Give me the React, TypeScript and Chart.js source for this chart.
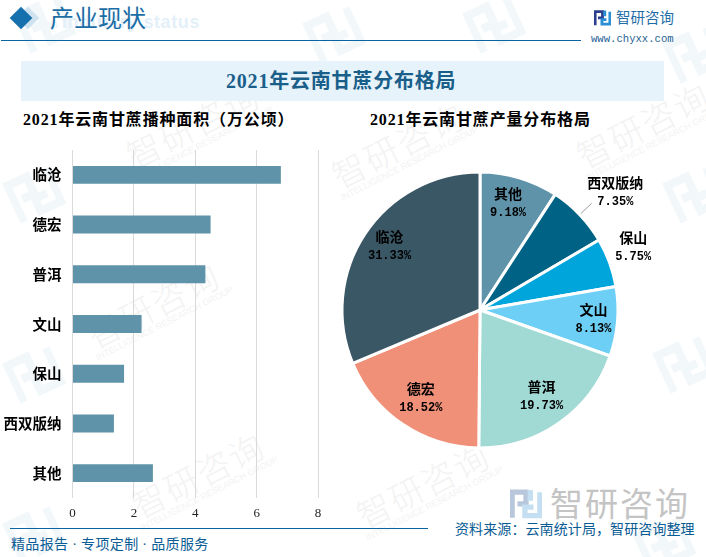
import React, { useEffect, useRef } from "react";
import { Chart, registerables } from "chart.js";

Chart.register(...registerables);

const barCategories = ["临沧", "德宏", "普洱", "文山", "保山", "西双版纳", "其他"];
const barValues = [6.79, 4.5, 4.33, 2.25, 1.68, 1.35, 2.62];
const pieCategories = ["其他", "西双版纳", "保山", "文山", "普洱", "德宏", "临沧"];
const pieValues = [9.18, 7.35, 5.75, 8.13, 19.73, 18.52, 31.33];
const pieColors = ["#5f93a9", "#006285", "#00a5dc", "#6dcff6", "#a1d9d5", "#f09078", "#3a5766"];
const xTicks = [0, 2, 4, 6, 8];

const SERIF = '"Liberation Serif", "Noto Sans CJK SC", serif';
const labelFont = '"Noto Sans CJK SC", sans-serif';

// Label placement relative to each slice: radius factor and angular nudge in degrees.
const labelRadius = [0.8, 1.3, 1.2, 0.825, 0.77, 0.77, 0.8];
const labelNudge = [-1.8, 2.7, -2.2, 0, -0.4, 0, 1.4];

const pieLabels = {
  id: "pieLabels",
  afterDatasetsDraw(chart: any) {
    const { ctx } = chart;
    const arcs = chart.getDatasetMeta(0).data;
    ctx.save();
    ctx.textAlign = "center";
    ctx.textBaseline = "middle";
    ctx.fillStyle = "#000";
    arcs.forEach((arc: any, i: number) => {
      const mid = (arc.startAngle + arc.endAngle) / 2 + (labelNudge[i] * Math.PI) / 180;
      const r = arc.outerRadius * labelRadius[i];
      const x = arc.x + Math.cos(mid) * r;
      const y = arc.y + Math.sin(mid) * r;
      ctx.font = `bold 14px ${labelFont}`;
      ctx.fillText(pieCategories[i], x, y - 9.5);
      ctx.font = 'bold 12px "Liberation Mono", monospace';
      ctx.fillText(`${pieValues[i].toFixed(2)}%`, x, y + 9.5);
    });
    const a = arcs[1];
    const ang = (a.startAngle + a.endAngle) / 2;
    ctx.strokeStyle = "#999";
    ctx.lineWidth = 1;
    ctx.beginPath();
    ctx.moveTo(a.x + Math.cos(ang) * a.outerRadius * 1.01, a.y + Math.sin(ang) * a.outerRadius * 1.01);
    ctx.lineTo(a.x + Math.cos(ang) * a.outerRadius * 1.12, a.y + Math.sin(ang) * a.outerRadius * 1.12);
    ctx.stroke();
    ctx.restore();
  },
};

const abs = (left: number, top: number, extra: React.CSSProperties = {}): React.CSSProperties => ({
  position: "absolute",
  left,
  top,
  whiteSpace: "nowrap",
  fontFamily: SERIF,
  ...extra,
});

const Logo = ({ x, y, s, light }: { x: number; y: number; s: number; light?: boolean }) => (
  <svg style={{ position: "absolute", left: x, top: y }} width={s} height={s} viewBox="0 0 30 30">
    <g fill="none" strokeWidth="5">
      <path d="M2 27V3H15V14H7" stroke={light ? "#b9c7dc" : "#2b3f8c"} />
      <path d="M28 3V25H14V17H22" stroke={light ? "#c5dff2" : "#2a8fd4"} />
      <path d="M19 1V11" stroke={light ? "#c5dff2" : "#2a8fd4"} />
    </g>
  </svg>
);

const watermarkSpots = [
  [195, 480], [420, 490], [395, 150], [190, 130], [640, 130], [150, 310],
];
const iconSpots = [
  [20, 0], [310, 10], [470, 0], [670, 30], [10, 170], [670, 170], [10, 350],
  [660, 340], [10, 510], [640, 520],
];

export default function App() {
  const barRef = useRef<HTMLCanvasElement>(null);
  const pieRef = useRef<HTMLCanvasElement>(null);

  useEffect(() => {
    const bar = new Chart(barRef.current!, {
      type: "bar",
      data: {
        labels: barCategories,
        datasets: [{ data: barValues, backgroundColor: "#5f93a9", barPercentage: 0.36, categoryPercentage: 1 }],
      },
      options: {
        indexAxis: "y",
        responsive: false,
        animation: false,
        layout: { padding: { top: 10, right: 12, left: 0, bottom: 0 } },
        plugins: { legend: { display: false }, tooltip: { enabled: false } },
        scales: {
          x: {
            min: 0,
            max: 8,
            afterBuildTicks: (axis: any) => {
              axis.ticks = xTicks.map((value) => ({ value }));
            },
            grid: { color: "#d9d9d9", drawTicks: false, lineWidth: 1 },
            border: { display: false },
            ticks: { color: "#222", font: { family: SERIF, size: 13 }, padding: 8, maxRotation: 0 },
            afterFit: (s: any) => {
              s.height = 22;
            },
          },
          y: {
            grid: { display: false, drawTicks: false },
            border: { display: false },
            ticks: { color: "#000", font: { family: labelFont, size: 14.5, weight: "bold" }, padding: 11, autoSkip: false },
            afterFit: (s: any) => {
              s.width = 72.5;
              s.paddingTop = 0;
              s.paddingBottom = 0;
            },
          },
        },
      },
    } as any);
    const pie = new Chart(pieRef.current!, {
      type: "pie",
      data: {
        labels: pieCategories,
        datasets: [{ data: pieValues, backgroundColor: pieColors, borderColor: "#fff", borderWidth: 3, radius: 138 }],
      },
      options: {
        responsive: false,
        animation: false,
        plugins: { legend: { display: false }, tooltip: { enabled: false } },
      },
      plugins: [pieLabels],
    } as any);
    return () => {
      bar.destroy();
      pie.destroy();
    };
  }, []);

  return (
    <div style={{ position: "absolute", left: 0, top: 0, width: 706, height: 557, overflow: "hidden", background: "#fff" }}>
      {iconSpots.map(([x, y], i) => (
        <svg key={i} style={{ position: "absolute", left: x, top: y, opacity: 0.07, transform: "rotate(-25deg)" }} width="50" height="50" viewBox="0 0 30 30">
          <g fill="none" strokeWidth="5" stroke="#5b9bc9">
            <path d="M2 27V3H15V14H7" />
            <path d="M28 3V25H14V17H22" />
          </g>
        </svg>
      ))}
      {watermarkSpots.map(([x, y], i) => (
        <div key={i} style={abs(x - 70, y - 25, { width: 150, textAlign: "center", color: "#f3f3f3", transform: "rotate(-27deg)", lineHeight: 1.1 })}>
          <div style={{ fontSize: 34, letterSpacing: 2, fontFamily: labelFont, fontWeight: 300 }}>智研咨询</div>
          <div style={{ fontSize: 9, fontFamily: '"Liberation Sans", sans-serif' }}>INTELLIGENCE RESEARCH GROUP</div>
        </div>
      ))}

      <div style={abs(62, 12, { fontSize: 18, fontWeight: 700, color: "#e4f0f9", fontFamily: '"Liberation Sans", sans-serif', letterSpacing: 0.6 })}>Industry status</div>
      <div style={{ position: "absolute", left: 20, top: 10, width: 16, height: 16, background: "#cfe2f0", transform: "rotate(45deg)" }} />
      <div style={{ position: "absolute", left: 13, top: 10, width: 16, height: 16, background: "#1570ad", transform: "rotate(45deg)" }} />
      <div style={abs(50, 4, { fontSize: 24, lineHeight: "30px", color: "#1b6ea5" })}>产业现状</div>
      <div style={{ position: "absolute", left: 1, top: 40, width: 580, height: 1, background: "#0a64a0" }} />

      <Logo x={594} y={10} s={17} />
      <div style={abs(616, 8, { fontSize: 14.5, lineHeight: "20px", color: "#1f6ea8" })}>智研咨询</div>
      <div style={abs(591, 33, { fontSize: 10.6, lineHeight: "13px", color: "#1f5f94", fontFamily: '"Liberation Mono", monospace' })}>www.chyxx.com</div>

      <div style={{ position: "absolute", left: 21, top: 61, width: 643, height: 40, background: "#e6f3fb" }} />
      <div style={abs(226, 67, { fontSize: 20, lineHeight: "28px", fontWeight: 700, letterSpacing: 0.8, color: "#1a5f8a" })}>2021年云南甘蔗分布格局</div>
      <div style={abs(23, 108, { fontSize: 16, lineHeight: "24px", fontWeight: 700, letterSpacing: 0.85, color: "#000" })}>2021年云南甘蔗播种面积（万公顷）</div>
      <div style={abs(370, 108, { fontSize: 16, lineHeight: "24px", fontWeight: 700, letterSpacing: 0.85, color: "#000" })}>2021年云南甘蔗产量分布格局</div>

      <canvas ref={barRef} width={330} height={380} style={{ position: "absolute", left: 0, top: 140 }} />
      <canvas ref={pieRef} width={360} height={300} style={{ position: "absolute", left: 300, top: 160 }} />

      <Logo x={510} y={489} s={32} light />
      <div style={abs(550, 485, { fontSize: 33, lineHeight: "40px", letterSpacing: 2, color: "#c4c4c4" })}>智研咨询</div>

      <div style={{ position: "absolute", left: 10, top: 528, width: 418, height: 1, background: "#0a64a0" }} />
      <div style={abs(11, 535, { fontSize: 14, lineHeight: "20px", letterSpacing: 0.35, color: "#0a5c94" })}>精品报告 · 专项定制 · 品质服务</div>
      <div style={abs(455, 520, { fontSize: 14, lineHeight: "20px", letterSpacing: 0.1, color: "#0a5c94" })}>资料来源：云南统计局，智研咨询整理</div>
    </div>
  );
}
